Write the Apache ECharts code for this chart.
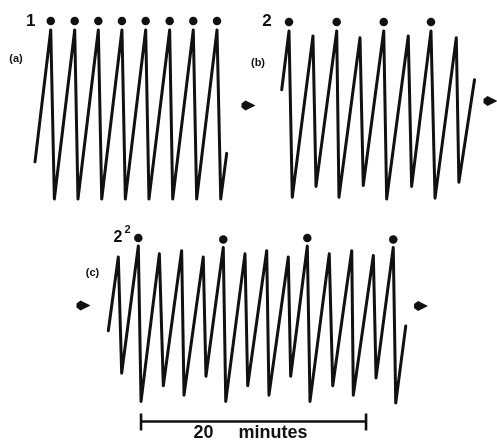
<!DOCTYPE html>
<html>
<head>
<meta charset="utf-8">
<script src="https://cdn.jsdelivr.net/npm/echarts@6/dist/echarts.min.js"></script>
<style>html,body{margin:0;padding:0;background:#fff;}#c{width:497px;height:442px;}</style>
</head>
<body>
<div id="c"></div>
<script>
// Time in minutes from the start of each trace, level in relative units (0 = lowest trough, 100 = highest peak)
const timesA  = [0, 1.40, 1.72, 3.53, 3.82, 5.63, 5.93, 7.73, 8.03, 9.84, 10.13, 11.97, 12.24, 14.07, 14.37, 16.18, 16.51, 17.04];
const levelsA = [22, 100, 0, 100, 0, 100, 0, 100, 0, 100, 0, 100, 0, 100, 0, 100, 0, 27];
const dotTimesA = [1.40, 3.53, 5.63, 7.73, 9.84, 11.97, 14.07, 16.18];

const timesB  = [0, 0.65, 0.94, 2.78, 3.05, 4.89, 5.09, 6.96, 7.25, 9.07, 9.33, 11.25, 11.55, 13.27, 13.63, 15.52, 15.75, 17.14];
const levelsB = [65, 100, 1, 97, 7.5, 100, 1, 96, 8, 100, 0, 97, 7.5, 100, 0.5, 96, 10, 71];
const dotTimesB = [0.65, 4.89, 9.07, 13.27];

const timesC  = [0, 0.89, 1.19, 2.67, 2.91, 4.54, 4.89, 6.52, 6.73, 8.44, 8.68, 10.22, 10.44, 12.15, 12.39, 14.08, 14.28, 16.0, 16.21, 17.69, 17.93, 19.64, 19.95, 21.64, 21.78, 23.56, 23.8, 25.33, 25.55, 26.44];
const levelsC = [46, 93, 19, 100, 1, 95, 11, 97, 5, 93, 17, 99, 1, 95, 11, 97, 5, 93, 17, 100, 1, 95, 11, 97, 5, 94, 16, 99, 0, 49];
const dotTimesC = [2.67, 10.22, 17.69, 25.33];

const periodLabels = ['1', '2', '2'];
const panelLabels = ['(a)', '(b)', '(c)'];
const scaleBarStart = 2.91;   // minutes, trace (c)
const scaleBarMinutes = 20;
const scaleBarUnit = 'minutes';

const ink = '#111';
const pxPerMin = 11.25;
const font = 'Liberation Sans, Arial, sans-serif';

function pairs(t, v) { return t.map((x, i) => [x, v[i]]); }
function dotPairs(dt, t, v) { return dt.map(x => [x, v[t.indexOf(x)]]); }

const panels = [
  {t: timesA, v: levelsA, d: dotTimesA, left: 35, top: 30, height: 169, dotOff: -9},
  {t: timesB, v: levelsB, d: dotTimesB, left: 281.7, top: 31, height: 168, dotOff: -9},
  {t: timesC, v: levelsC, d: dotTimesC, left: 108.3, top: 246, height: 157, dotOff: -8}
];

const grid = [], xAxis = [], yAxis = [], series = [];
panels.forEach((p, i) => {
  const tMax = p.t[p.t.length - 1];
  grid.push({left: p.left, top: p.top, width: tMax * pxPerMin, height: p.height});
  xAxis.push({type: 'value', gridIndex: i, min: 0, max: tMax, show: false});
  yAxis.push({type: 'value', gridIndex: i, min: 0, max: 100, show: false});
  series.push({
    type: 'line', xAxisIndex: i, yAxisIndex: i, data: pairs(p.t, p.v),
    showSymbol: false, symbol: 'none', clip: false, animation: false,
    lineStyle: {color: ink, width: 3, join: 'round', cap: 'round'}
  });
  series.push({
    type: 'scatter', xAxisIndex: i, yAxisIndex: i, data: dotPairs(p.d, p.t, p.v),
    symbol: 'circle', symbolSize: 8.5, symbolOffset: [0, p.dotOff], clip: false, animation: false,
    itemStyle: {color: ink, opacity: 1}
  });
});

// scale bar on trace (c)
series.push({
  type: 'custom', xAxisIndex: 2, yAxisIndex: 2, clip: false, animation: false,
  data: [[scaleBarStart, scaleBarStart + scaleBarMinutes]],
  renderItem: function (params, api) {
    const a = api.coord([api.value(0), 0]);
    const b = api.coord([api.value(1), 0]);
    const y = a[1] + 18.5;
    const mid = (a[0] + b[0]) / 2;
    const st = {stroke: ink, lineWidth: 2.6};
    return {type: 'group', children: [
      {type: 'line', shape: {x1: a[0], y1: y, x2: b[0], y2: y}, style: st},
      {type: 'line', shape: {x1: a[0], y1: y - 8, x2: a[0], y2: y + 9}, style: st},
      {type: 'line', shape: {x1: b[0], y1: y - 8, x2: b[0], y2: y + 9}, style: st},
      {type: 'text', style: {x: mid - 40, y: y + 21, text: String(scaleBarMinutes), textAlign: 'right',
        textVerticalAlign: 'bottom', fill: ink, font: 'bold 18px ' + font}},
      {type: 'text', style: {x: mid - 15, y: y + 21, text: scaleBarUnit, textAlign: 'left',
        textVerticalAlign: 'bottom', fill: ink, font: 'bold 18px ' + font}}
    ]};
  }
});

function txt(x, y, s, size, weight) {
  return {type: 'text', x: x, y: y, style: {text: s, fill: ink, font: (weight || 'bold') + ' ' + size + 'px ' + font,
    textAlign: 'center', textVerticalAlign: 'middle'}};
}
function arrow(cx, cy) {
  return {type: 'polygon', x: cx, y: cy,
    shape: {points: [[-7, -2], [-3, -5], [7, 0], [-3, 5], [-7, 2]]},
    style: {fill: ink}};
}

const graphic = [
  txt(30.7, 21, periodLabels[0], 17),
  txt(267, 21.5, periodLabels[1], 17),
  txt(118, 237.5, periodLabels[2], 16),
  txt(127.5, 230, '2', 11),
  txt(16, 59, panelLabels[0], 11),
  txt(258, 63, panelLabels[1], 11),
  txt(92.5, 272.5, panelLabels[2], 11),
  arrow(248.5, 105.5),
  arrow(490.5, 101),
  arrow(83.5, 305.5),
  arrow(421, 306)
];

const chart = echarts.init(document.getElementById('c'), null, {renderer: 'canvas'});
chart.setOption({
  backgroundColor: '#fff',
  animation: false,
  grid: grid, xAxis: xAxis, yAxis: yAxis, series: series, graphic: graphic
});
</script>
</body>
</html>
